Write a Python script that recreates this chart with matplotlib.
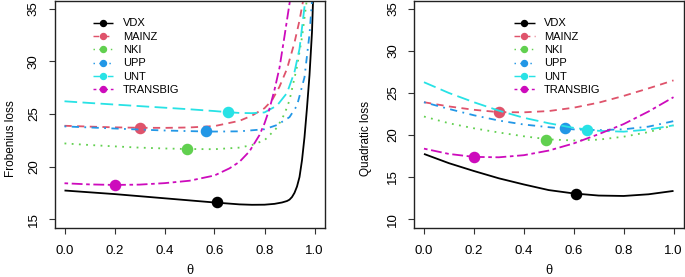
import numpy as np
import matplotlib
matplotlib.use("Agg")
import matplotlib.pyplot as plt
from matplotlib.lines import Line2D

# ---------------- data ----------------
series = ["VDX", "MAINZ", "NKI", "UPP", "UNT", "TRANSBIG"]
colors = ["#000000", "#DF536B", "#61D04F", "#2297E6", "#28E2E5", "#CD0BBC"]

# Frobenius loss (left panel)
frob_vdx_t = [0, 0.1, 0.2, 0.3, 0.4, 0.5, 0.6, 0.7, 0.75, 0.8, 0.84, 0.87, 0.89, 0.9, 0.91, 0.92, 0.93, 0.94, 0.95, 0.96, 0.97, 0.98, 0.99, 1.0]
frob_vdx_v = [17.72, 17.55, 17.38, 17.18, 16.98, 16.78, 16.58, 16.40, 16.36, 16.37, 16.45, 16.58, 16.72, 16.85, 17.10, 17.50, 18.10, 19.00, 20.60, 22.80, 25.60, 28.70, 32.80, 40.0]
frob_mainz_t = [0, 0.1, 0.2, 0.3, 0.4, 0.5, 0.6, 0.7, 0.75, 0.8, 0.83, 0.86, 0.89, 0.92, 0.94, 0.96, 0.97]
frob_mainz_v = [23.88, 23.80, 23.73, 23.69, 23.68, 23.72, 23.85, 24.35, 24.85, 25.55, 26.30, 27.60, 29.30, 31.80, 33.90, 36.50, 39.0]
frob_nki_t = [0, 0.1, 0.2, 0.3, 0.4, 0.49, 0.6, 0.7, 0.75, 0.8, 0.85, 0.88, 0.9, 0.93, 0.95, 0.97, 0.98]
frob_nki_v = [22.20, 22.05, 21.92, 21.80, 21.72, 21.67, 21.65, 21.80, 22.05, 22.50, 23.70, 25.00, 26.30, 29.50, 32.30, 36.00, 39.0]
frob_upp_t = [0, 0.1, 0.2, 0.3, 0.4, 0.5, 0.56, 0.6, 0.7, 0.8, 0.85, 0.9, 0.93, 0.96, 0.98, 0.99, 1.0]
frob_upp_v = [23.82, 23.72, 23.62, 23.52, 23.43, 23.37, 23.34, 23.33, 23.35, 23.55, 23.95, 24.70, 25.80, 28.50, 32.60, 35.80, 40.0]
frob_unt_t = [0, 0.1, 0.2, 0.3, 0.4, 0.5, 0.6, 0.65, 0.7, 0.75, 0.8, 0.85, 0.89, 0.92, 0.94, 0.96, 0.97]
frob_unt_v = [26.21, 26.05, 25.90, 25.75, 25.60, 25.45, 25.28, 25.18, 25.10, 25.08, 25.15, 25.80, 27.00, 29.00, 31.20, 35.20, 38.0]
frob_tb_t = [0, 0.1, 0.2, 0.3, 0.4, 0.5, 0.6, 0.66, 0.7, 0.74, 0.78, 0.8, 0.82, 0.84, 0.86, 0.88, 0.9, 0.92]
frob_tb_v = [18.41, 18.30, 18.25, 18.28, 18.42, 18.65, 19.15, 19.83, 20.45, 21.45, 23.00, 24.10, 25.50, 27.30, 29.40, 32.40, 35.50, 39.0]

# Quadratic loss (right panel)
quad_t = [0, 0.1, 0.2, 0.3, 0.4, 0.5, 0.6, 0.7, 0.8, 0.9, 1.0]
quad_vdx = [17.75, 16.65, 15.72, 14.85, 14.12, 13.45, 13.05, 12.80, 12.75, 12.95, 13.35]
quad_mainz = [23.90, 23.40, 23.00, 22.72, 22.70, 22.85, 23.25, 23.85, 24.65, 25.55, 26.50]
quad_nki = [22.20, 21.40, 20.80, 20.30, 19.85, 19.48, 19.35, 19.45, 19.80, 20.35, 21.15]
quad_upp = [23.90, 23.10, 22.35, 21.72, 21.25, 20.93, 20.67, 20.58, 20.68, 21.00, 21.65]
quad_unt = [26.28, 25.00, 23.90, 22.90, 22.05, 21.40, 20.85, 20.50, 20.40, 20.65, 21.15]
quad_tb = [18.38, 17.75, 17.40, 17.35, 17.60, 18.15, 19.00, 20.10, 21.30, 22.80, 24.50]

# optimum points
opt_theta = [0.61, 0.30, 0.49, 0.565, 0.655, 0.20]
opt_frob = [16.58, 23.69, 21.67, 23.34, 25.17, 18.25]
opt_quad = [13.00, 22.72, 19.45, 20.78, 20.62, 17.37]

frob_curves = [(frob_vdx_t, frob_vdx_v), (frob_mainz_t, frob_mainz_v), (frob_nki_t, frob_nki_v),
               (frob_upp_t, frob_upp_v), (frob_unt_t, frob_unt_v), (frob_tb_t, frob_tb_v)]
quad_curves = [(quad_t, quad_vdx), (quad_t, quad_mainz), (quad_t, quad_nki),
               (quad_t, quad_upp), (quad_t, quad_unt), (quad_t, quad_tb)]

# ---------------- style ----------------
plt.rcParams['font.family'] = ['Liberation Sans', 'DejaVu Sans']
FS_TICK = 9.5
FS_LAB = 8.5
FS_LEG = 8
LW = 1.3
dash_styles = [
    (0, ()),                 # solid
    (0, (4, 3)),             # dashed
    (0, (1, 3)),             # dotted
    (0, (1, 3, 4, 3)),       # dotdash
    (0, (7, 3)),             # longdash
    (0, (2, 2, 6, 2)),       # twodash
]

W, H = 685, 277
fig = plt.figure(figsize=(W / 100, H / 100), dpi=100)

def px_axes(x0, y0, x1, y1):
    return fig.add_axes([x0 / W, 1 - y1 / H, (x1 - x0) / W, (y1 - y0) / H])

axL = px_axes(54.5, 0.5, 324.5, 227.5)
axR = px_axes(414, 0.5, 683.5, 227.5)

def setup(ax, ylim, yticks, ylabel, lab_x):
    ax.set_xlim(-0.04, 1.04)
    ax.set_ylim(*ylim)
    ax.set_xticks([0, 0.2, 0.4, 0.6, 0.8, 1.0])
    ax.set_xticklabels(["0.0", "0.2", "0.4", "0.6", "0.8", "1.0"])
    ax.set_yticks(yticks)
    ax.set_yticklabels([str(v) for v in yticks], rotation=90, va='center')
    ax.tick_params(direction='out', length=4.5, width=0.8, labelsize=FS_TICK, color='#333333')
    ax.tick_params(axis='x', pad=8)
    ax.tick_params(axis='y', pad=6)
    for s in ax.spines.values():
        s.set_linewidth(1.0)
        s.set_color('#222222')
    ax.set_xlabel("θ", family=['DejaVu Serif'], fontsize=FS_LAB)
    ax.set_ylabel(ylabel, fontsize=FS_LAB, va='center')
    ax.yaxis.set_label_coords(lab_x, 0.5, transform=fig.transFigure)

setup(axL, (14.2, 35.8), [15, 20, 25, 30, 35], "Frobenius loss", 11 / W)
setup(axR, (9.0, 36.0), [10, 15, 20, 25, 30, 35], "Quadratic loss", 366 / W)
axL.xaxis.set_label_coords(189.5 / W, 1 - 264 / H, transform=fig.transFigure)
axR.xaxis.set_label_coords(548.5 / W, 1 - 264 / H, transform=fig.transFigure)

for ax, curves, opt in [(axL, frob_curves, opt_frob), (axR, quad_curves, opt_quad)]:
    handles = []
    for i, name in enumerate(series):
        t, v = curves[i]
        ax.plot(t, v, color=colors[i], lw=LW, linestyle=dash_styles[i], clip_on=True)
        ax.plot([opt_theta[i]], [opt[i]], 'o', color=colors[i], ms=7.3, mec=colors[i])
        handles.append(Line2D([], [], color=colors[i], lw=LW * 0.8, linestyle=dash_styles[i],
                              marker='o', ms=4.3, label=name))
    ax._leg_handles = handles

for ax, x0 in [(axL, 92.7), (axR, 514)]:
    ax.legend(handles=ax._leg_handles, loc='upper left', bbox_to_anchor=(x0 / W, 1 - 18.5 / H),
              bbox_transform=fig.transFigure, frameon=False, fontsize=FS_LEG, handlelength=1.85,
              handletextpad=0.87, labelspacing=0.3, borderpad=0, borderaxespad=0)

fig.savefig("out.png", dpi=100)
